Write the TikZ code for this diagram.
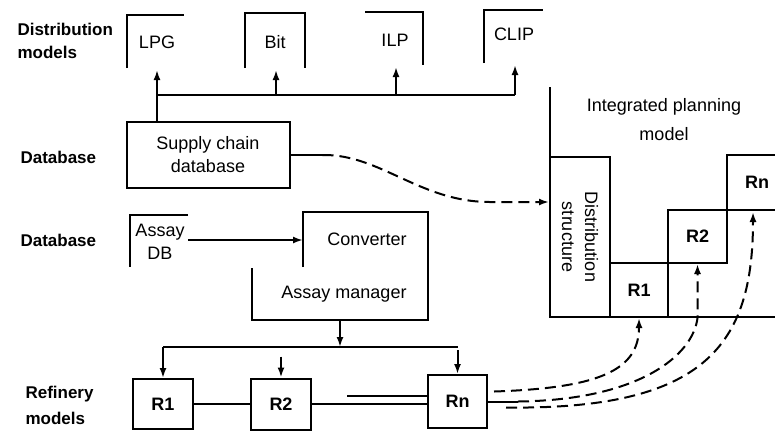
\documentclass[tikz,border=0pt]{standalone}
\usepackage{fontspec}
\setmainfont{Liberation Sans}
\usetikzlibrary{arrows.meta}
\tikzset{
    edge/.style={line width=2pt},
    boxed/.style={draw, line width=2pt, inner sep=0pt},
    lbl/.style={font=\fontsize{17}{23}\selectfont\bfseries, align=left, anchor=west},
    txt/.style={font=\fontsize{18}{23}\selectfont, align=center},
    rtxt/.style={font=\fontsize{18}{23}\selectfont\bfseries},
    conn/.style={line width=2pt, -{Latex[length=10pt,width=7pt]}},
    dconn/.style={conn, dash pattern=on 11pt off 6pt}
}

\begin{document}
\begin{tikzpicture}[x=1pt, y=-1pt]
    \useasboundingbox (0,0) rectangle (775,432);

    \node[lbl] (lbldist) at (14,41) {Distribution\\models};
    \node[lbl] (lbldb) at (17,157) {Database};
    \node[lbl] (lblassay) at (17,240) {Database};
    \node[lbl, font=\fontsize{17}{26}\selectfont\bfseries] (lblref) at (22,405) {Refinery\\models};

    % distribution models
    \draw[edge] (127,68) -- (127,15) -- (184,15);
    \draw[edge] (245,68) -- (245,13) -- (305,13) -- (305,68);
    \draw[edge] (365,12) -- (423,12) -- (423,65);
    \draw[edge] (484,63) -- (484,10) -- (543,10);
    \node[txt] (lpg) at (157,42) {LPG};
    \node[txt] (bit) at (275,42) {Bit};
    \node[txt] (ilp) at (395,40) {ILP};
    \node[txt] (clip) at (514,34) {CLIP};
    \coordinate (lpgin) at (157,70);
    \coordinate (bitin) at (276,70);
    \coordinate (ilpin) at (396,67);
    \coordinate (clipin) at (515,65);
    \coordinate (bus) at (157,95);

    \node[boxed, txt, minimum width=163pt, minimum height=66pt] (scdb) at (208,155) {Supply chain\\database};
    \draw[conn] (scdb.north -| lpgin) -- (lpgin);
    \draw[edge] (bus) -- (bus -| clipin);
    \foreach \m in {bitin, ilpin, clipin}
        \draw[conn] (bus -| \m) -- (\m);

    % integrated planning model
    \draw[edge] (550,87) -- (550,317) -- (775,317);
    \node[txt, font=\fontsize{18}{29}\selectfont] (ipm) at (664,120) {Integrated planning\\model};
    \node[boxed, minimum width=60pt, minimum height=160pt] (dist) at (580,237) {};
    \node[txt, rotate=-90] (disttxt) at (dist.center) {Distribution\\structure};
    \node[boxed, rtxt, minimum width=58pt, minimum height=54pt] (ip1) at (639,290) {R1};
    \node[boxed, rtxt, minimum width=59pt, minimum height=53pt] (ip2) at (697.5,236.5) {R2};
    \draw[edge] (775,155) -- (727,155) -- (727,263);
    \draw[edge] (668,210) -- (775,210);
    \node[rtxt] (ipn) at (757,182) {Rn};
    \coordinate (ipnin) at (753,212);

    \draw[edge] (scdb.east) -- ++(32,0) coordinate (sc1);
    \draw[dconn] (sc1) .. controls (380,154) and (420,202) .. (490,202) -- ([yshift=35pt]dist.west);

    % assay data
    \draw[edge] (188,215) -- (130,215) -- (130,267);
    \node[txt] (assaydb) at (160,242) {Assay\\DB};
    \draw[edge] (303,267) -- (303,212) -- (428,212) -- (428,320) -- (252,320) -- (252,268);
    \node[txt] (conv) at (367,239) {Converter};
    \node[txt] (amgr) at (344,294) {Assay manager};
    \coordinate (adbout) at (188,240);
    \coordinate (convin) at (303,240);
    \coordinate (amgrout) at (340,320);
    \draw[conn] (adbout) -- (convin);

    % refinery models
    \node[boxed, rtxt, minimum width=60pt, minimum height=50pt] (ref1) at (163,404) {R1};
    \node[boxed, rtxt, minimum width=60pt, minimum height=51pt] (ref2) at (281,404) {R2};
    \node[boxed, rtxt, minimum width=59pt, minimum height=53pt] (refn) at (457.5,401.5) {Rn};
    \coordinate (bus2) at (ref1.north |- 0,347);
    \draw[edge] (bus2) -- (bus2 -| refn.north);
    \draw[conn] (amgrout) -- (amgrout |- bus2);
    \draw[conn] (bus2) -- (ref1.north);
    \draw[conn] ([yshift=21pt]ref2.north) -- (ref2.north);
    \draw[conn] ([yshift=24pt]refn.north) -- (refn.north);
    \draw[edge] (ref1) -- (ref2);
    \draw[edge] (ref2.east) -- (ref2.east -| refn.west);
    \draw[edge] ([yshift=6pt]refn.west) -- ++(-80,0);

    \draw[dconn] ([yshift=10pt,xshift=6pt]refn.east) .. controls (600,388) and (639,370) .. (ip1.south);
    \draw[edge] (refn.east) -- ++(30,0) coordinate (rb);
    \draw[dconn] (rb) .. controls (640,400) and (693,355) .. (ip2.south |- ip1.south) -- (ip2.south);
    \draw[dconn] ([yshift=-6pt,xshift=18pt]refn.east) .. controls (705,410) and (753,345) .. (ipnin);
\end{tikzpicture}
\end{document}
